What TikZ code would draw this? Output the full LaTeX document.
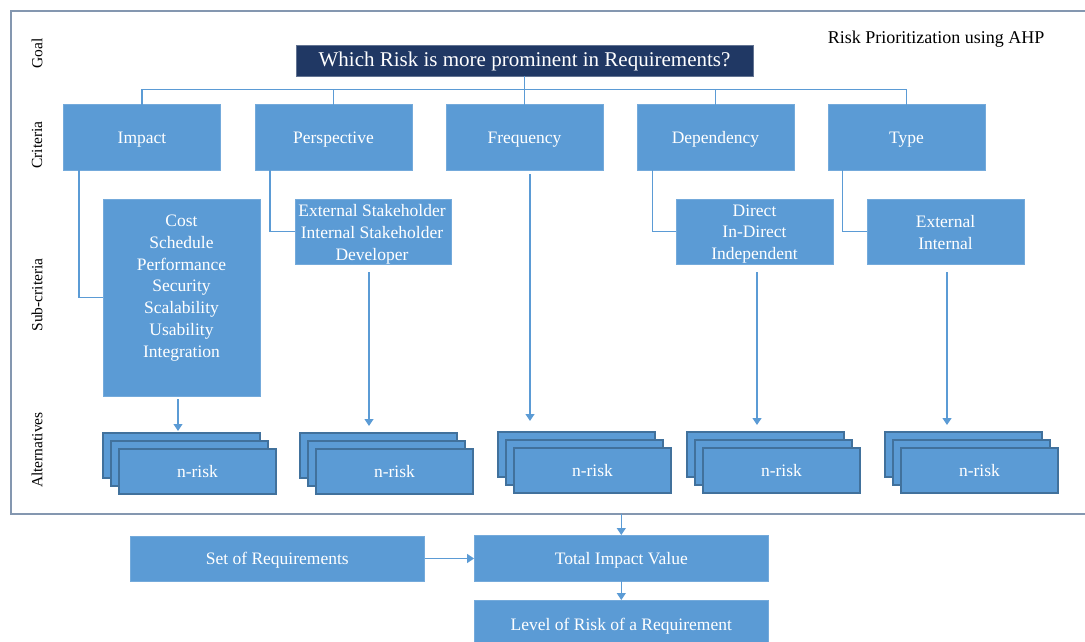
\documentclass[tikz,border=0pt]{standalone}
\usepackage{fontspec}
\setmainfont{Liberation Serif}
\usetikzlibrary{arrows.meta}
\definecolor{boxblue}{HTML}{5B9BD5}
\definecolor{navy}{HTML}{203864}
\definecolor{edgeblue}{HTML}{41719C}
\definecolor{framegray}{HTML}{8497B0}
\begin{document}
\begin{tikzpicture}[x=1pt,y=-1pt,
  every node/.style={inner sep=0pt, outer sep=0pt},
  bluebox/.style={fill=boxblue, draw=boxblue!85!white, line width=0.8pt,
    text=white, font=\fontsize{17.5}{21.8}\selectfont},
  onebox/.style={bluebox, text height=15.8pt, text depth=3.8pt},
  boxtext/.style={text=white, align=center, font=\fontsize{17.5}{21.8}\selectfont},
  goalbox/.style={fill=navy, draw=navy!70!white, line width=0.8pt, text=white,
    font=\fontsize{21}{24}\selectfont, text height=17pt, text depth=4.6pt},
  stackbox/.style={fill=boxblue, draw=edgeblue, line width=1.2pt,
    minimum width=157pt, minimum height=45pt, text=white,
    font=\fontsize{17.5}{21}\selectfont, text height=15.8pt, text depth=3.8pt},
  sidelabel/.style={rotate=90, font=\fontsize{15.5}{18}\selectfont},
  link/.style={draw=boxblue, line width=1.2pt},
  arr/.style={link, -{Triangle[width=9pt,length=7pt]}}]
\useasboundingbox (0,0) rectangle (1085,641);
\clip (0,0) rectangle (1085,641);

% outer frame of the AHP hierarchy
\draw[framegray, line width=1.5pt] (11,11) rectangle (1100,514);

% level labels
\node[sidelabel] (lgoal) at (37,53.5) {Goal};
\node[sidelabel] (lcrit) at (37,145) {Criteria};
\node[sidelabel] (lsub) at (37,295) {Sub-criteria};
\node[sidelabel] (lalt) at (37,450) {Alternatives};

\node[font=\fontsize{18}{21}\selectfont] (title) at (936,39.5) {Risk Prioritization using AHP};

% goal
\node[goalbox, minimum width=457pt, minimum height=31pt] (goal) at (524.5,60.5)
  {Which Risk is more prominent in Requirements?};

% criteria
\foreach \nm/\cx/\txt in {impact/142/Impact, persp/333.5/Perspective,
    freq/524.5/Frequency, dep/715.5/Dependency, type/906.5/Type}
  \node[onebox, minimum width=157pt, minimum height=65.5pt] (\nm) at (\cx,137.5) {\txt};

% goal to criteria
\draw[link] (goal.south) -- (freq.north);
\draw[link] (impact.north) -- ++(0,-15.5) -| (type.north);
\draw[link] (persp.north) -- ++(0,-15.5);
\draw[link] (dep.north) -- ++(0,-15.5);

% sub-criteria boxes and their lists
\node[bluebox, minimum width=157pt, minimum height=197pt] (impsub) at (181.5,297.5) {};
\node[boxtext] (impsubtxt) at (181.5,288)
  {Cost\\Schedule\\Performance\\Security\\Scalability\\Usability\\Integration};
\node[bluebox, minimum width=156pt, minimum height=65pt] (perssub) at (373,231.5) {};
\node[boxtext] (perssubtxt) at (372,234)
  {External Stakeholder\\Internal Stakeholder\\Developer};
\node[bluebox, minimum width=157pt, minimum height=65pt] (depsub) at (754.5,231.5) {};
\node[boxtext] (depsubtxt) at (754.5,234) {Direct\\In-Direct\\Independent};
\node[bluebox, minimum width=157pt, minimum height=65pt] (typesub) at (945.5,231.5) {};
\node[boxtext] (typesubtxt) at (945.5,232.5) {External\\Internal};

\draw[link] ([xshift=-63pt]impact.south) |- (impsub.west);
\draw[link] ([xshift=-63.5pt]persp.south) |- (perssub.west);
\draw[link] ([xshift=-63pt]dep.south) |- (depsub.west);
\draw[link] ([xshift=-64pt]type.south) |- (typesub.west);

% alternatives: stacks of n-risk cards
\foreach \i/\bx/\by in {1/103/433, 2/300/433, 3/498/432, 4/687/432, 5/885/432} {
  \node[stackbox, anchor=north west] (stk\i a) at (\bx,\by) {};
  \node[stackbox, anchor=north west] (stk\i b) at (\bx+8,\by+8) {};
  \node[stackbox, anchor=north west] (stk\i c) at (\bx+16,\by+16) {n-risk};
}

% sub-criteria to alternatives
\draw[arr, shorten <=3pt, shorten >=2pt] ([xshift=-3.5pt]impsub.south) -- ([xshift=-3.5pt]impsub.south |- stk1a.north);
\draw[arr, shorten <=8pt, shorten >=7pt] ([xshift=-4pt]perssub.south) -- ([xshift=-4pt]perssub.south |- stk2a.north);
\draw[arr, shorten <=4pt, shorten >=11pt] ([xshift=5.5pt]freq.south) -- ([xshift=5.5pt]freq.south |- stk3a.north);
\draw[arr, shorten <=8pt, shorten >=7pt] ([xshift=2.5pt]depsub.south) -- ([xshift=2.5pt]depsub.south |- stk4a.north);
\draw[arr, shorten <=8pt, shorten >=7pt] ([xshift=1.5pt]typesub.south) -- ([xshift=1.5pt]typesub.south |- stk5a.north);

% evaluation
\node[onebox, minimum width=294.5pt, minimum height=45pt] (setreq) at (277.3,558.5) {Set of Requirements};
\node[onebox, minimum width=294.5pt, minimum height=46pt] (tiv) at (621.3,558) {Total Impact Value};
\node[onebox, minimum width=294.5pt, minimum height=48pt] (level) at (621.3,624) {Level of Risk of a Requirement};
\coordinate (framebase) at (621.3,514);

\draw[arr] (framebase) -- (tiv.north);
\draw[arr] (setreq.east) -- (setreq.east -| tiv.west);
\draw[arr] (tiv.south) -- (level.north);
\end{tikzpicture}
\end{document}
